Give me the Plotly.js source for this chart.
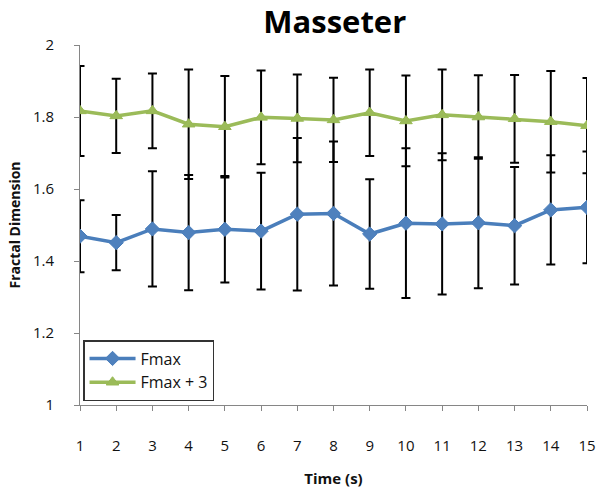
<!DOCTYPE html>
<html>
<head>
<meta charset="utf-8">
<script src="https://cdn.plot.ly/plotly-3.0.1.min.js"></script>
<style>html,body{margin:0;padding:0;background:#fff;}#chart{width:600px;height:492px;}</style>
</head>
<body>
<div id="chart"></div>
<script>
var timeS = [1,2,3,4,5,6,7,8,9,10,11,12,13,14,15];
var fmax = [1.469,1.451,1.489,1.479,1.488,1.483,1.530,1.532,1.475,1.505,1.503,1.506,1.498,1.542,1.549];
var fmaxErr = [0.100,0.077,0.160,0.160,0.148,0.162,0.212,0.200,0.152,0.208,0.196,0.182,0.163,0.152,0.155];
var fmax3 = [1.817,1.803,1.817,1.780,1.773,1.799,1.796,1.792,1.812,1.789,1.806,1.800,1.795,1.787,1.776];
var fmax3Err = [0.125,0.103,0.104,0.152,0.141,0.130,0.122,0.117,0.120,0.126,0.126,0.116,0.122,0.141,0.132];
var yTicks = [1,1.2,1.4,1.6,1.8,2];
var yTickText = ['1','1.2','1.4','1.6','1.8','2'];

var errStyle = {type:'data', visible:true, color:'#000000', thickness:2, width:4.5};

var traces = [
  {x:timeS, y:fmax, name:'Fmax', type:'scatter', mode:'lines+markers',
   line:{color:'#4A7EBB', width:3.5},
   marker:{symbol:'diamond', size:11, color:'#4F81BD', line:{color:'#4A7EBB', width:1}},
   error_y:Object.assign({array:fmaxErr}, errStyle)},
  {x:timeS, y:fmax3, name:'Fmax + 3', type:'scatter', mode:'lines+markers',
   line:{color:'#9BBB59', width:3.5},
   marker:{symbol:'triangle-up', size:11, color:'#9BBB59', line:{color:'#98B954', width:1}},
   error_y:Object.assign({array:fmax3Err}, errStyle)}
];

var layout = {
  width:600, height:492,
  margin:{l:80, r:13, t:45, b:87},
  paper_bgcolor:'#ffffff', plot_bgcolor:'#ffffff',
  font:{family:'Open Sans, sans-serif', color:'#111111'},
  title:{text:'<b>Masseter</b>', font:{size:31, color:'#000000', family:'Open Sans, sans-serif'},
         x:0.558, xanchor:'center', y:0.955, yanchor:'middle'},
  xaxis:{range:[1,15], tickvals:timeS, ticktext:timeS.map(String),
         showgrid:false, zeroline:false, showline:true, linecolor:'#868686', linewidth:1,
         ticks:'outside', ticklen:5, tickcolor:'#868686', tickfont:{size:15, color:'#111'},
         ticklabelstandoff:22,
         title:{text:'<b>Time (s)</b>', font:{size:15, color:'#111'}, standoff:19}},
  yaxis:{range:[1,2], tickvals:yTicks, ticktext:yTickText,
         showgrid:false, zeroline:false, showline:true, linecolor:'#868686', linewidth:1,
         ticks:'outside', ticklen:5, tickcolor:'#868686', tickfont:{size:15, color:'#111'},
         ticklabelstandoff:17,
         title:{text:'<b>Fractal Dimension</b>', font:{size:14, color:'#111'}, standoff:9}},
  showlegend:true,
  legend:{x:0.006, y:0.011, xanchor:'left', yanchor:'bottom',
          bgcolor:'#ffffff', bordercolor:'#333333', borderwidth:1.5,
          font:{size:16, color:'#111'}, itemwidth:46, tracegroupgap:2}
};

Plotly.newPlot('chart', traces, layout, {displayModeBar:false, staticPlot:true});
</script>
</body>
</html>
